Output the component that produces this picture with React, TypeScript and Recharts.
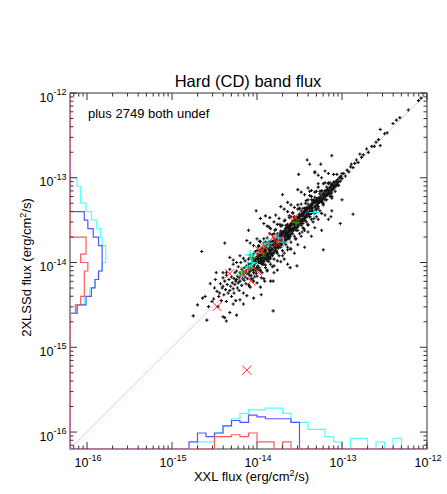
import React from 'react';
import { ComposedChart, Scatter, XAxis, YAxis } from 'recharts';

// ---------- axis ranges (log10 of flux, erg/cm2/s) ----------
const DOMAIN_LO = -16.2;
const DOMAIN_HI = -12;
const BIN = 0.1;
const COUNT_MAX = 200;

// ---------- tick labels ----------
const tickDecades = [-17, -16, -15, -14, -13, -12];
const tickMantissas = [1, 2, 3, 4, 5, 6, 7, 8, 9];

// ---------- scatter points: [log10 XXL flux, log10 2XLSSd flux] ----------
const blackPts: [number, number][] = [
  // faint tail
  [-14.75, -14.63], [-14.59, -14.68], [-14.64, -14.42], [-14.61, -14.40], [-14.53, -14.46], [-14.51, -14.43],
  [-14.47, -14.34], [-14.55, -14.25], [-14.49, -14.20], [-14.65, -13.87], [-14.70, -14.50], [-14.46, -14.52],
  [-14.50, -14.30], [-14.57, -14.52], [-14.45, -14.40], [-14.48, -14.12],
  [-14.44, -14.36], [-14.43, -14.25], [-14.42, -14.45], [-14.41, -14.30], [-14.40, -14.28], [-14.40, -14.18],
  [-14.39, -14.38], [-14.38, -14.65], [-14.38, -14.22], [-14.37, -14.32], [-14.36, -14.46], [-14.36, -14.12],
  [-14.35, -14.26], [-14.34, -14.36], [-14.33, -14.20], [-14.32, -14.33], [-14.32, -14.08], [-14.31, -14.28],
  [-14.30, -14.40], [-14.30, -14.17], [-14.29, -14.24], [-14.28, -14.31], [-14.28, -14.02], [-14.27, -14.19],
  [-14.27, -14.36], [-14.26, -14.26], [-14.26, -14.12], [-14.25, -14.22], [-14.25, -14.45], [-14.38, -13.77],
  // lower core
  [-14.24, -14.20], [-14.24, -14.10], [-14.23, -14.30], [-14.23, -14.16], [-14.22, -14.24], [-14.22, -14.05],
  [-14.21, -14.18], [-14.21, -14.33], [-14.20, -14.12], [-14.20, -14.22], [-14.19, -14.15], [-14.19, -14.00],
  [-14.18, -14.27], [-14.18, -14.08], [-14.17, -14.19], [-14.17, -14.11], [-14.16, -14.14], [-14.16, -14.36],
  [-14.15, -14.06], [-14.15, -14.21], [-14.14, -14.17], [-14.14, -13.98], [-14.13, -14.10], [-14.13, -14.25],
  [-14.12, -14.13], [-14.12, -14.04], [-14.11, -14.19], [-14.11, -14.08], [-14.10, -14.02], [-14.10, -14.14],
  [-14.09, -14.11], [-14.09, -14.28], [-14.08, -14.06], [-14.08, -13.94], [-14.07, -14.15], [-14.07, -14.01],
  [-14.06, -14.09], [-14.06, -14.20], [-14.05, -13.99], [-14.05, -14.05], [-14.04, -14.12], [-14.04, -13.90],
  [-14.03, -14.03], [-14.03, -14.17], [-14.02, -14.08], [-14.02, -13.97], [-14.01, -14.00], [-14.01, -14.13],
  [-14.00, -14.06], [-14.00, -13.93],
  // dense core
  [-13.99, -14.04], [-13.99, -13.96], [-13.99, -13.90], [-13.98, -13.95], [-13.98, -14.08], [-13.98, -13.99],
  [-13.97, -13.92], [-13.97, -14.00], [-13.97, -13.86], [-13.96, -13.98], [-13.96, -13.91], [-13.96, -14.10],
  [-13.95, -13.87], [-13.95, -13.95], [-13.95, -14.01], [-13.94, -13.97], [-13.94, -13.90], [-13.94, -13.83],
  [-13.93, -13.89], [-13.93, -14.02], [-13.93, -13.94], [-13.92, -13.94], [-13.92, -13.85], [-13.92, -13.99],
  [-13.91, -13.86], [-13.91, -13.96], [-13.91, -13.90], [-13.90, -13.92], [-13.90, -13.82], [-13.90, -14.03],
  [-13.89, -13.88], [-13.89, -13.95], [-13.89, -13.84], [-13.88, -13.91], [-13.88, -13.80], [-13.88, -13.98],
  [-13.87, -13.84], [-13.87, -13.90], [-13.87, -13.93], [-13.86, -13.89], [-13.86, -13.79], [-13.86, -13.96],
  [-13.85, -13.82], [-13.85, -13.87], [-13.85, -13.93], [-13.84, -13.86], [-13.84, -13.77], [-13.84, -13.95],
  [-13.83, -13.80], [-13.83, -13.85], [-13.83, -13.90], [-13.82, -13.84], [-13.82, -13.76], [-13.82, -13.91],
  [-13.81, -13.78], [-13.81, -13.83], [-13.81, -13.88], [-13.80, -13.82], [-13.80, -13.74], [-13.80, -13.89],
  [-13.79, -13.76], [-13.79, -13.80], [-13.79, -13.86], [-13.78, -13.79], [-13.78, -13.72], [-13.78, -13.84],
  [-13.77, -13.74], [-13.77, -13.78], [-13.77, -13.87], [-13.76, -13.77], [-13.76, -13.70], [-13.76, -13.82],
  [-13.75, -13.72], [-13.75, -13.76], [-13.75, -13.83], [-13.74, -13.75], [-13.74, -13.68], [-13.74, -13.80],
  [-13.73, -13.70], [-13.73, -13.74], [-13.73, -13.81], [-13.72, -13.73], [-13.72, -13.66], [-13.72, -13.78],
  [-13.71, -13.68], [-13.71, -13.72], [-13.71, -13.79], [-13.70, -13.71], [-13.70, -13.64], [-13.70, -13.76],
  [-13.69, -13.66], [-13.69, -13.70], [-13.69, -13.77], [-13.68, -13.69], [-13.68, -13.62], [-13.68, -13.74],
  [-13.67, -13.64], [-13.67, -13.68], [-13.67, -13.75], [-13.66, -13.67], [-13.66, -13.60], [-13.66, -13.72],
  [-13.65, -13.62], [-13.65, -13.66], [-13.65, -13.73], [-13.64, -13.65], [-13.64, -13.58], [-13.64, -13.70],
  [-13.63, -13.60], [-13.63, -13.64], [-13.63, -13.71], [-13.62, -13.63], [-13.62, -13.56], [-13.62, -13.68],
  [-13.61, -13.58], [-13.61, -13.62], [-13.61, -13.69], [-13.60, -13.61], [-13.60, -13.54], [-13.60, -13.66],
  // tight ridge
  [-14.00, -14.06], [-14.00, -13.96], [-13.98, -13.91], [-13.98, -14.00], [-13.96, -13.99], [-13.96, -13.87],
  [-13.94, -13.92], [-13.94, -14.02], [-13.92, -13.98], [-13.92, -13.88], [-13.90, -13.83], [-13.90, -13.92],
  [-13.88, -13.91], [-13.88, -13.79], [-13.86, -13.84], [-13.86, -13.94], [-13.84, -13.90], [-13.84, -13.80],
  [-13.82, -13.75], [-13.82, -13.84], [-13.80, -13.83], [-13.80, -13.71], [-13.78, -13.76], [-13.78, -13.86],
  [-13.76, -13.82], [-13.76, -13.72], [-13.74, -13.67], [-13.74, -13.76], [-13.72, -13.75], [-13.72, -13.63],
  [-13.70, -13.68], [-13.70, -13.78], [-13.68, -13.74], [-13.68, -13.64], [-13.66, -13.59], [-13.66, -13.68],
  [-13.64, -13.67], [-13.64, -13.55], [-13.62, -13.60], [-13.62, -13.70], [-13.60, -13.66], [-13.60, -13.56],
  [-13.58, -13.51], [-13.58, -13.60], [-13.56, -13.59], [-13.56, -13.47], [-13.54, -13.52], [-13.54, -13.62],
  [-13.52, -13.58], [-13.52, -13.48], [-13.50, -13.43], [-13.50, -13.52], [-13.48, -13.51], [-13.48, -13.39],
  [-13.46, -13.44], [-13.46, -13.54], [-13.44, -13.50], [-13.44, -13.40], [-13.42, -13.35], [-13.42, -13.44],
  [-13.40, -13.43], [-13.40, -13.31], [-13.38, -13.36], [-13.38, -13.46], [-13.36, -13.42], [-13.36, -13.32],
  [-13.34, -13.27], [-13.34, -13.36], [-13.32, -13.35], [-13.32, -13.23], [-13.30, -13.28], [-13.30, -13.38],
  [-13.28, -13.34], [-13.28, -13.24], [-13.26, -13.19], [-13.26, -13.28], [-13.24, -13.27], [-13.24, -13.15],
  [-13.22, -13.20], [-13.22, -13.30], [-13.20, -13.26], [-13.20, -13.16], [-13.18, -13.11], [-13.18, -13.20],
  [-13.16, -13.19], [-13.16, -13.07], [-13.14, -13.12], [-13.14, -13.22], [-13.12, -13.18], [-13.12, -13.08],
  // band fill
  [-14.10, -14.26], [-14.10, -14.05], [-14.10, -13.96], [-14.08, -14.16], [-14.08, -13.91], [-14.08, -14.10],
  [-14.06, -13.96], [-14.06, -14.19], [-14.06, -14.05], [-14.04, -14.22], [-14.04, -13.96], [-14.04, -14.09],
  [-14.02, -13.87], [-14.02, -14.12], [-14.02, -13.99], [-14.00, -14.16], [-14.00, -13.95], [-14.00, -13.86],
  [-13.98, -14.06], [-13.98, -13.81], [-13.98, -14.00], [-13.96, -13.86], [-13.96, -14.09], [-13.96, -13.95],
  [-13.94, -14.12], [-13.94, -13.86], [-13.94, -13.99], [-13.92, -13.77], [-13.92, -14.02], [-13.92, -13.89],
  [-13.90, -14.06], [-13.90, -13.85], [-13.90, -13.76], [-13.88, -13.96], [-13.88, -13.71], [-13.88, -13.90],
  [-13.86, -13.76], [-13.86, -13.99], [-13.86, -13.85], [-13.84, -14.02], [-13.84, -13.76], [-13.84, -13.89],
  [-13.82, -13.67], [-13.82, -13.92], [-13.82, -13.79], [-13.80, -13.96], [-13.80, -13.75], [-13.80, -13.66],
  [-13.78, -13.86], [-13.78, -13.61], [-13.78, -13.80], [-13.76, -13.66], [-13.76, -13.89], [-13.76, -13.75],
  [-13.74, -13.92], [-13.74, -13.66], [-13.74, -13.79], [-13.72, -13.57], [-13.72, -13.82], [-13.72, -13.69],
  [-13.70, -13.86], [-13.70, -13.65], [-13.70, -13.56], [-13.68, -13.76], [-13.68, -13.51], [-13.68, -13.70],
  [-13.66, -13.56], [-13.66, -13.79], [-13.66, -13.65], [-13.64, -13.82], [-13.64, -13.56], [-13.64, -13.69],
  [-13.62, -13.47], [-13.62, -13.72], [-13.62, -13.59], [-13.60, -13.76], [-13.60, -13.55], [-13.60, -13.46],
  [-13.58, -13.66], [-13.58, -13.41], [-13.58, -13.60], [-13.56, -13.46], [-13.56, -13.69], [-13.56, -13.55],
  [-13.54, -13.72], [-13.54, -13.46], [-13.54, -13.59], [-13.52, -13.37], [-13.52, -13.62], [-13.52, -13.49],
  [-13.50, -13.66], [-13.50, -13.45], [-13.50, -13.36], [-13.48, -13.56], [-13.48, -13.31], [-13.48, -13.50],
  [-13.46, -13.36], [-13.46, -13.59], [-13.46, -13.45], [-13.44, -13.62], [-13.44, -13.36], [-13.44, -13.49],
  [-13.42, -13.27], [-13.42, -13.52], [-13.42, -13.39], [-13.40, -13.56], [-13.40, -13.35], [-13.40, -13.26],
  [-13.38, -13.46], [-13.38, -13.21], [-13.38, -13.40], [-13.36, -13.26], [-13.36, -13.49], [-13.36, -13.35],
  [-13.34, -13.52], [-13.34, -13.26], [-13.34, -13.39], [-13.32, -13.17], [-13.32, -13.42], [-13.32, -13.29],
  [-13.30, -13.46], [-13.30, -13.25], [-13.30, -13.16], [-13.28, -13.36], [-13.28, -13.11], [-13.28, -13.30],
  [-13.26, -13.16], [-13.26, -13.39], [-13.26, -13.25], [-13.24, -13.42], [-13.24, -13.16], [-13.24, -13.29],
  [-13.22, -13.07], [-13.22, -13.32], [-13.22, -13.19], [-13.20, -13.15], [-13.20, -13.06], [-13.18, -13.26],
  [-13.18, -13.20], [-13.16, -13.06], [-13.16, -13.15], [-13.14, -13.06], [-13.14, -13.19], [-13.12, -13.22],
  [-13.12, -13.09], [-13.10, -13.05], [-13.10, -12.96], [-13.08, -13.16], [-13.08, -13.10], [-13.06, -12.96],
  [-13.06, -13.05], [-13.04, -13.09], [-13.02, -12.99], [-13.00, -12.95],
  // halo
  [-14.40, -14.12], [-14.40, -14.64], [-14.36, -14.69], [-14.36, -14.15], [-14.32, -13.94], [-14.32, -14.59],
  [-14.28, -14.49], [-14.28, -13.97], [-14.24, -14.00], [-14.24, -14.62], [-14.20, -13.92], [-14.20, -14.44],
  [-14.16, -14.49], [-14.16, -13.95], [-14.12, -13.74], [-14.12, -14.39], [-14.08, -14.29], [-14.08, -13.77],
  [-14.04, -13.80], [-14.04, -14.42], [-14.00, -13.72], [-14.00, -14.24], [-13.96, -14.29], [-13.96, -13.75],
  [-13.92, -13.54], [-13.92, -14.19], [-13.88, -14.09], [-13.88, -13.57], [-13.84, -13.60], [-13.84, -14.22],
  [-13.80, -13.52], [-13.80, -14.04], [-13.76, -14.09], [-13.76, -13.55], [-13.72, -13.34], [-13.72, -13.99],
  [-13.68, -13.89], [-13.68, -13.37], [-13.64, -13.40], [-13.64, -14.02], [-13.60, -13.32], [-13.60, -13.84],
  [-13.56, -13.89], [-13.56, -13.35], [-13.52, -13.14], [-13.52, -13.79], [-13.48, -13.69], [-13.48, -13.17],
  [-13.44, -13.20], [-13.44, -13.82], [-13.40, -13.12], [-13.40, -13.64], [-13.36, -13.69], [-13.36, -13.15],
  [-13.32, -12.94], [-13.32, -13.59], [-13.28, -13.49], [-13.28, -12.97], [-13.24, -13.00], [-13.24, -13.62],
  [-13.20, -12.92], [-13.20, -13.44], [-13.16, -13.49], [-13.16, -12.95], [-13.12, -12.74], [-13.12, -13.39],
  [-13.98, -13.80], [-13.95, -14.18], [-13.92, -13.72], [-13.88, -14.10], [-13.85, -13.66], [-13.82, -14.05],
  [-13.79, -13.62], [-13.76, -13.98], [-13.73, -13.55], [-13.70, -13.92], [-13.67, -13.50], [-13.64, -13.85],
  [-13.62, -13.45], [-13.91, -14.22], [-13.86, -13.58], [-13.80, -14.12], [-13.74, -13.48], [-13.68, -13.96],
  [-13.97, -13.75], [-13.61, -13.84],
  // upper core
  [-13.59, -13.56], [-13.59, -13.63], [-13.58, -13.60], [-13.58, -13.53], [-13.57, -13.54], [-13.57, -13.62],
  [-13.56, -13.58], [-13.56, -13.50], [-13.55, -13.52], [-13.55, -13.60], [-13.54, -13.56], [-13.54, -13.49],
  [-13.53, -13.50], [-13.53, -13.58], [-13.52, -13.55], [-13.52, -13.47], [-13.51, -13.48], [-13.51, -13.56],
  [-13.50, -13.52], [-13.50, -13.45], [-13.49, -13.46], [-13.49, -13.54], [-13.48, -13.50], [-13.48, -13.43],
  [-13.47, -13.44], [-13.47, -13.52], [-13.46, -13.48], [-13.46, -13.41], [-13.45, -13.42], [-13.45, -13.50],
  [-13.44, -13.46], [-13.44, -13.39], [-13.43, -13.40], [-13.43, -13.47], [-13.42, -13.44], [-13.42, -13.37],
  [-13.41, -13.38], [-13.41, -13.46], [-13.40, -13.42], [-13.40, -13.35], [-13.39, -13.36], [-13.39, -13.44],
  [-13.38, -13.40], [-13.38, -13.33], [-13.37, -13.34], [-13.37, -13.42], [-13.36, -13.38], [-13.36, -13.31],
  [-13.35, -13.32], [-13.35, -13.40], [-13.34, -13.36], [-13.34, -13.29], [-13.33, -13.30], [-13.33, -13.38],
  [-13.32, -13.34], [-13.32, -13.27], [-13.31, -13.28], [-13.31, -13.36], [-13.30, -13.32], [-13.30, -13.25],
  [-13.58, -13.42], [-13.55, -13.72], [-13.50, -13.36], [-13.47, -13.64], [-13.43, -13.30], [-13.40, -13.55],
  [-13.36, -13.22], [-13.33, -13.48], [-13.52, -13.32], [-13.45, -13.60],
  // bright end
  [-13.29, -13.27], [-13.29, -13.33], [-13.28, -13.30], [-13.27, -13.24], [-13.27, -13.29], [-13.26, -13.27],
  [-13.25, -13.22], [-13.25, -13.28], [-13.24, -13.25], [-13.23, -13.20], [-13.23, -13.26], [-13.22, -13.23],
  [-13.21, -13.18], [-13.21, -13.24], [-13.20, -13.21], [-13.19, -13.16], [-13.19, -13.22], [-13.18, -13.19],
  [-13.17, -13.14], [-13.17, -13.20], [-13.16, -13.17], [-13.15, -13.12], [-13.15, -13.18], [-13.14, -13.15],
  [-13.13, -13.10], [-13.13, -13.16], [-13.12, -13.13], [-13.11, -13.08], [-13.11, -13.14], [-13.10, -13.11],
  [-13.09, -13.06], [-13.09, -13.12], [-13.08, -13.09], [-13.07, -13.04], [-13.07, -13.10], [-13.06, -13.07],
  [-13.05, -13.02], [-13.05, -13.08], [-13.04, -13.05], [-13.03, -13.00], [-13.02, -13.04], [-13.01, -12.98],
  [-13.00, -13.01],
  [-12.98, -12.95], [-12.96, -12.98], [-12.94, -12.91], [-12.92, -12.93], [-12.90, -12.87], [-12.89, -12.84],
  [-12.87, -12.88], [-12.85, -12.83], [-12.83, -12.79], [-12.81, -12.82], [-12.79, -12.72], [-12.77, -12.76],
  [-12.75, -12.73], [-12.71, -12.66], [-12.69, -12.70], [-12.65, -12.63], [-12.62, -12.63], [-12.60, -12.58],
  [-12.57, -12.55], [-12.55, -12.62], [-12.55, -12.43], [-12.50, -12.48], [-12.47, -12.47], [-12.40, -12.36],
  [-12.36, -12.32], [-12.32, -12.29], [-12.22, -12.20], [-12.07, -12.06], [-12.10, -12.09],
  // outliers
  [-13.41, -12.79], [-13.38, -12.84], [-13.25, -12.84], [-13.32, -12.93], [-13.28, -13.07], [-13.38, -13.16],
  [-13.51, -12.96], [-13.12, -13.24], [-13.00, -13.26], [-13.13, -13.46], [-12.87, -13.43], [-13.64, -13.29],
  [-14.01, -13.39], [-13.96, -13.48], [-13.61, -14.06], [-13.53, -14.04], [-13.81, -14.22], [-13.81, -14.57],
  [-13.90, -13.45], [-14.10, -13.62], [-13.70, -13.20], [-13.02, -13.54], [-13.22, -13.85], [-13.95, -14.38],
  [-13.85, -13.47], [-13.78, -13.44],
];

const redPts: [number, number][] = [
  [-14.32, -14.13], [-14.47, -14.52], [-14.12, -15.27], [-14.07, -14.22], [-14.00, -14.10], [-14.14, -14.11],
  [-13.98, -13.85], [-13.91, -13.82], [-13.84, -13.80], [-13.81, -13.70], [-13.76, -13.77], [-13.55, -13.46],
  [-13.58, -13.50], [-13.95, -13.87], [-13.73, -13.72],
];

const cyanPts: [number, number][] = [
  [-13.33, -13.41], [-13.75, -13.71], [-13.69, -13.76], [-14.08, -13.91], [-14.06, -14.00], [-14.18, -14.15],
  [-14.11, -14.05], [-13.87, -13.77],
];

const greenPts: [number, number][] = [
  [-13.54, -13.53], [-13.88, -13.80], [-13.93, -13.89], [-14.05, -13.94], [-14.07, -14.06], [-14.17, -14.12],
];

// ---------- histograms (0.1 dex bins, counts listed from the first bin upward) ----------
const xHistBlueStart = -14.8;
const xHistBlue = [4, 9, 7, 9, 13, 16, 15, 19, 18, 17, 17, 17, 15];
const xHistCyanStart = -14.7;
const xHistCyan = [4, 4, 9, 13, 17, 20, 22, 22, 23, 23, 20, 15, 15, 11, 11, 7, 4, 0, 6, 6, 0, 4, 0, 6];
const xHistRedStart = -14.5;
const xHistRed = [7, 7, 8, 7, 9, 4, 4, 0, 4];

const yHistCyanStart = -14.6;
const yHistCyan = [4, 8, 11, 14, 16, 18, 20, 20, 18, 17, 15, 12, 9, 6, 6, 4];
const yHistBlueStart = -14.6;
const yHistBlue = [4, 9, 12, 14, 16, 18, 18, 18, 16, 13, 10, 8];
const yHistRedStart = -14.6;
const yHistRed = [3, 6, 8, 8, 8, 10, 6, 9, 9];

// ---------- helpers ----------
const p10 = (e: number) => Math.pow(10, e);
const toXY = (pts: [number, number][]) => pts.map(([a, b]) => ({ x: p10(a), y: p10(b) }));

const edges = (start: number, counts: number[]) => {
  const out: { f: number; c: number }[] = [{ f: p10(DOMAIN_LO), c: 0 }, { f: p10(start), c: 0 }];
  counts.forEach((c, i) => {
    out.push({ f: p10(start + i * BIN), c }, { f: p10(start + (i + 1) * BIN), c });
  });
  out.push({ f: p10(start + counts.length * BIN), c: 0 }, { f: p10(DOMAIN_HI), c: 0 });
  return out;
};
const histX = (start: number, counts: number[]) => edges(start, counts).map((p) => ({ x: p.f, c: p.c }));
const histY = (start: number, counts: number[]) => edges(start, counts).map((p) => ({ y: p.f, c: p.c }));

const logTicks = tickDecades
  .flatMap((d) => tickMantissas.map((m) => m * p10(d)))
  .filter((v) => v >= p10(DOMAIN_LO) * 0.999 && v <= p10(DOMAIN_HI) * 1.001);

const FONT = '"Liberation Sans", Arial, Helvetica, sans-serif';
const AXIS = '#333';

// layout
const W = 447;
const H = 494;
const M = { top: 83, right: 10, bottom: 15, left: 10 };
const LEFT_W = 60;
const RIGHT_W = 10;
const TOP_H = 10;
const BOTTOM_H = 30;
const PLOT_L = M.left + LEFT_W;
const PLOT_R = W - M.right - RIGHT_W;
const PLOT_T = M.top + TOP_H;
const PLOT_B = H - M.bottom - BOTTOM_H;

const makeTick = (side: 'bottom' | 'top' | 'left' | 'right') => (props: any) => {
  const { payload } = props;
  const c = payload.coordinate;
  const lg = Math.log10(payload.value);
  const e = Math.round(lg);
  const major = Math.abs(lg - e) < 1e-6;
  const len = major ? 7 : 3.5;
  let line: React.ReactNode = null;
  let label: React.ReactNode = null;
  if (side === 'bottom') {
    line = <line x1={c} y1={PLOT_B} x2={c} y2={PLOT_B - len} stroke={AXIS} strokeWidth={1} />;
    if (major)
      label = (
        <text x={c + 1} y={PLOT_B + 18} textAnchor="middle" fontFamily={FONT} fontSize={12.5} fill="#000">
          10<tspan dy={-6.5} fontSize={9}>{String(e)}</tspan>
        </text>
      );
  } else if (side === 'top') {
    line = <line x1={c} y1={PLOT_T} x2={c} y2={PLOT_T + len} stroke={AXIS} strokeWidth={1} />;
  } else if (side === 'left') {
    line = <line x1={PLOT_L} y1={c} x2={PLOT_L + len} y2={c} stroke={AXIS} strokeWidth={1} />;
    if (major)
      label = (
        <text x={PLOT_L - 3.5} y={c + 8.5} textAnchor="end" fontFamily={FONT} fontSize={12.5} fill="#000">
          10<tspan dy={-6.5} fontSize={9}>{String(e)}</tspan>
        </text>
      );
  } else {
    line = <line x1={PLOT_R} y1={c} x2={PLOT_R - len} y2={c} stroke={AXIS} strokeWidth={1} />;
  }
  return (
    <g>
      {line}
      {label}
    </g>
  );
};

const BlackDot = (p: any) => (
  <path d={`M${p.cx - 1.6},${p.cy}h3.2M${p.cx},${p.cy - 1.6}v3.2`} stroke="#111" strokeWidth={1.1} fill="none" />
);
const RedX = (p: any) => (
  <path d={`M${p.cx - 4.5},${p.cy - 4.5}l9,9M${p.cx - 4.5},${p.cy + 4.5}l9,-9`} stroke="#ff2a2a" strokeWidth={1} fill="none" />
);
const CyanPlus = (p: any) => (
  <path d={`M${p.cx - 5},${p.cy}h10M${p.cx},${p.cy - 5}v10`} stroke="#22e8e8" strokeWidth={1.2} fill="none" />
);
const GreenPlus = (p: any) => (
  <path d={`M${p.cx - 4},${p.cy}h8M${p.cx},${p.cy - 4}v8`} stroke="#00a000" strokeWidth={1.2} fill="none" />
);
const NoShape = () => <g />;

const diagonal = [
  { x: p10(DOMAIN_LO), y: p10(DOMAIN_LO) },
  { x: p10(DOMAIN_HI), y: p10(DOMAIN_HI) },
];

const axisCommon = {
  type: 'number' as const,
  scale: 'log' as const,
  allowDataOverflow: true,
  ticks: logTicks,
  interval: 0 as const,
  tickLine: false,
  tickSize: 0,
  tickMargin: 0,
  axisLine: false,
};

export default function App() {
  const logDomain: [number, number] = [p10(DOMAIN_LO), p10(DOMAIN_HI)];
  return (
    <div style={{ position: 'absolute', left: 0, top: 0, width: W, height: H, background: '#fff' }}>
      {/* plot frame, beneath the chart */}
      <svg width={W} height={H} style={{ position: 'absolute', left: 0, top: 0 }}>
        <rect x={PLOT_L} y={PLOT_T} width={PLOT_R - PLOT_L} height={PLOT_B - PLOT_T} fill="none" stroke={AXIS} strokeWidth={1} />
      </svg>
      <div style={{ position: 'absolute', left: 0, top: 0 }}>
        <ComposedChart width={W} height={H} margin={M}>
          <XAxis xAxisId="b" dataKey="x" domain={logDomain} tick={makeTick('bottom')} height={BOTTOM_H} {...axisCommon} />
          <XAxis xAxisId="t" dataKey="x" orientation="top" domain={logDomain} tick={makeTick('top')} height={TOP_H} {...axisCommon} />
          <YAxis yAxisId="l" dataKey="y" domain={logDomain} tick={makeTick('left')} width={LEFT_W} {...axisCommon} />
          <YAxis yAxisId="r" dataKey="y" orientation="right" domain={logDomain} tick={makeTick('right')} width={RIGHT_W} {...axisCommon} />
          <XAxis xAxisId="cnt" dataKey="c" type="number" domain={[0, COUNT_MAX]} allowDataOverflow hide />
          <YAxis yAxisId="cntY" dataKey="c" type="number" domain={[0, COUNT_MAX]} allowDataOverflow hide />

          {/* invisible series binding the top/right frame axes */}
          <Scatter data={diagonal} xAxisId="t" yAxisId="r" shape={NoShape} isAnimationActive={false} />

          <Scatter data={diagonal} xAxisId="b" yAxisId="l" line={{ stroke: '#ffb8ff', strokeWidth: 1 }} lineType="joint" shape={NoShape} isAnimationActive={false} />

          <Scatter data={histX(xHistCyanStart, xHistCyan)} xAxisId="b" yAxisId="cntY" line={{ stroke: '#55ffff', strokeWidth: 1.2 }} lineType="joint" shape={NoShape} isAnimationActive={false} />
          <Scatter data={histX(xHistBlueStart, xHistBlue)} xAxisId="b" yAxisId="cntY" line={{ stroke: '#5555ff', strokeWidth: 1.2 }} lineType="joint" shape={NoShape} isAnimationActive={false} />
          <Scatter data={histX(xHistRedStart, xHistRed)} xAxisId="b" yAxisId="cntY" line={{ stroke: '#ff5a5a', strokeWidth: 1.2 }} lineType="joint" shape={NoShape} isAnimationActive={false} />

          <Scatter data={histY(yHistCyanStart, yHistCyan)} xAxisId="cnt" yAxisId="l" line={{ stroke: '#55ffff', strokeWidth: 1.2 }} lineType="joint" shape={NoShape} isAnimationActive={false} />
          <Scatter data={histY(yHistBlueStart, yHistBlue)} xAxisId="cnt" yAxisId="l" line={{ stroke: '#5555ff', strokeWidth: 1.2 }} lineType="joint" shape={NoShape} isAnimationActive={false} />
          <Scatter data={histY(yHistRedStart, yHistRed)} xAxisId="cnt" yAxisId="l" line={{ stroke: '#ff5a5a', strokeWidth: 1.2 }} lineType="joint" shape={NoShape} isAnimationActive={false} />

          <Scatter data={toXY(blackPts)} xAxisId="b" yAxisId="l" shape={BlackDot} isAnimationActive={false} />
          <Scatter data={toXY(greenPts)} xAxisId="b" yAxisId="l" shape={GreenPlus} isAnimationActive={false} />
          <Scatter data={toXY(cyanPts)} xAxisId="b" yAxisId="l" shape={CyanPlus} isAnimationActive={false} />
          <Scatter data={toXY(redPts)} xAxisId="b" yAxisId="l" shape={RedX} isAnimationActive={false} />
        </ComposedChart>
      </div>

      <svg width={W} height={H} style={{ position: 'absolute', left: 0, top: 0, pointerEvents: 'none' }}>
        <text x={248} y={86.5} textAnchor="middle" fontFamily={FONT} fontSize={16.5} fill="#000">
          Hard (CD) band flux
        </text>
        <text x={88} y={118} fontFamily={FONT} fontSize={13} fill="#000">
          plus 2749 both undef
        </text>
        <text x={251.5} y={481} textAnchor="middle" fontFamily={FONT} fontSize={13} fill="#000">
          XXL flux (erg/cm<tspan dy={-5} fontSize={9}>2</tspan><tspan dy={5}>/s)</tspan>
        </text>
        <text x={31} y={267.5} textAnchor="middle" transform="rotate(-90 31 267.5)" fontFamily={FONT} fontSize={13} fill="#000">
          2XLSSd flux (erg/cm<tspan dy={-5} fontSize={9}>2</tspan><tspan dy={5}>/s)</tspan>
        </text>
      </svg>
    </div>
  );
}
